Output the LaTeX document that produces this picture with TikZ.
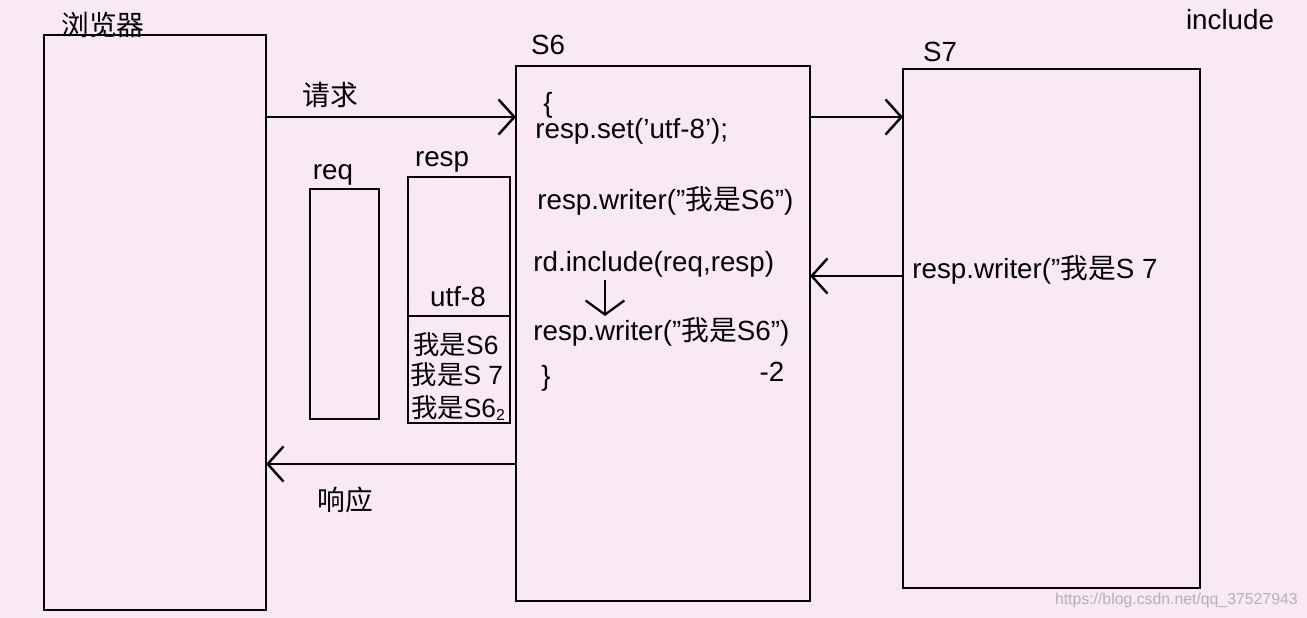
\documentclass[tikz,border=0pt]{standalone}
\usepackage{fontspec}
\setmainfont{Liberation Sans}[Ligatures=ResetAll]
\newfontfamily\cjk{Noto Sans CJK SC}
\usetikzlibrary{arrows.meta,positioning}
\definecolor{bgpink}{HTML}{F8E9F4}
\tikzset{
  box/.style={draw, line width=1.6pt, fill=none},
  txt/.style={font=\fontsize{15.8}{17}\selectfont, inner sep=0pt},
  small/.style={txt, font=\fontsize{15}{17}\selectfont},
  link/.style={line width=1.6pt, -{Straight Barb[length=9pt,width=20pt,line width=1.4pt]}}
}
\newcommand{\wo}{{\cjk 我是}}
\begin{document}
\begin{tikzpicture}[x=0.02cm,y=-0.02cm]
  % Hintergrund
  \fill[bgpink] (0,0) rectangle (1307,618);
  \useasboundingbox (0,0) rectangle (1307,618);

  % Kästen
  \draw[box] (44,35) rectangle (266,610);
  \draw[box] (516,66) rectangle (810,601);
  \draw[box] (903,69) rectangle (1200,588);
  \draw[box] (310,189) rectangle (379,419);
  \draw[box] (408,177) rectangle (510,423);
  \draw[box] (408,316) -- (510,316);

  % Punkte an den Rändern
  \coordinate (bro-out) at (266,117);
  \coordinate (bro-in)  at (266,464);
  \coordinate (s6-in)   at (516,117);
  \coordinate (s6-out)  at (516,464);
  \coordinate (s6-r1)   at (810,117);
  \coordinate (s6-r2)   at (810,276);
  \coordinate (s7-l1)   at (903,117);
  \coordinate (s7-l2)   at (903,276);
  \coordinate (inc-a)   at (605,280);
  \coordinate (inc-b)   at (605,316);

  % Pfeile
  \draw[link] (bro-out) -- (s6-in);
  \draw[link] (s6-out) -- (bro-in);
  \draw[link] (s6-r1) -- (s7-l1);
  \draw[link] (s7-l2) -- (s6-r2);
  \draw[line width=1.4pt, -{Straight Barb[length=8pt,width=22pt,line width=1.3pt]}] (inc-a) -- (inc-b);

  % Beschriftungen
  \node[txt] (browser) at (103,25) {\cjk 浏览器};
  \node[txt] (s6)  at (548,45) {S6};
  \node[txt] (s7)  at (940,52) {S7};
  \node[txt] (inc) at (1230,20) {include};
  \node[txt] (qq)  at (330,95) {\cjk 请求};
  \node[txt] (xy)  at (345,500) {\cjk 响应};
  \node[txt] (req) at (333,175) {req};
  \node[txt] (rsp) at (442,162) {resp};
  \node[txt] (u8)  at (458,297) {utf-8};
  \node[small] (m1)  at (456,345) {\wo S6};
  \node[small] (m2)  at (457,375) {\wo S 7};
  \node[small] (m3)  at (458,408) {\wo S6\raisebox{-2pt}{\small 2}};

  \node[txt, anchor=west] (l0) at (543,105) {\{};
  \node[txt, anchor=west] (l1) at (535,131) {resp.set('utf-8');};
  \node[txt, anchor=west] (l2) at (537,201) {resp.writer("\wo S6")};
  \node[txt, anchor=west] (l3) at (533,264) {rd.include(req,resp)};
  \node[txt, anchor=west] (l4) at (533,332) {resp.writer("\wo S6")};
  \node[txt, anchor=west] (l5) at (541,378) {\}};
  \node[txt] (mn)  at (772,372) {-2};
  \node[txt, anchor=west] (l6) at (912,270) {resp.writer("\wo S 7};

  \node[txt, anchor=east, text=gray!60, font=\fontsize{9}{10}\selectfont] (wm) at (1298,600) {https://blog.csdn.net/qq\_37527943};
\end{tikzpicture}
\end{document}
